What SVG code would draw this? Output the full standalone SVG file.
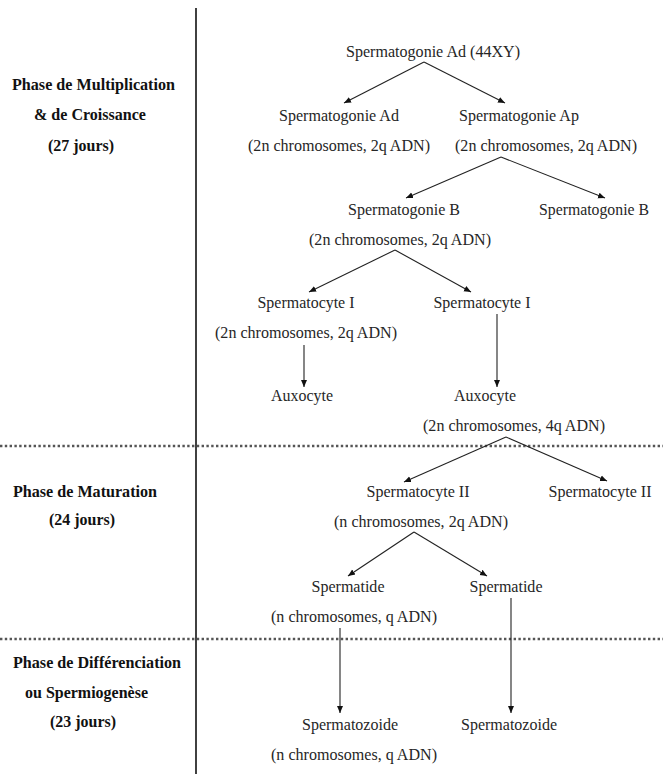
<svg xmlns="http://www.w3.org/2000/svg" width="663" height="774" viewBox="0 0 663 774">
<style>
  .t{font-family:"Liberation Serif","Times New Roman",serif;font-size:17.5px;fill:#262626;text-anchor:middle}
  .h{font-family:"Liberation Serif","Times New Roman",serif;font-size:17.5px;font-weight:bold;fill:#111}
  .c line{stroke:#222;stroke-width:1.1;fill:none}
  .dot{stroke:#555;stroke-width:2.6;stroke-dasharray:2.4 2.4}
</style>
<defs>
  <marker id="ah" markerWidth="8" markerHeight="8" refX="7" refY="4" orient="auto" markerUnits="userSpaceOnUse">
    <path d="M0,1 L7,4 L0,7 Z" fill="#111"/>
  </marker>
</defs>
<rect width="663" height="774" fill="#fff"/>
<g id="frame">
  <line x1="196" y1="8" x2="196" y2="774" stroke="#111" stroke-width="1.6"/>
  <line class="dot" x1="0" y1="446" x2="663" y2="446"/>
  <line class="dot" x1="0" y1="639" x2="663" y2="639"/>
</g>
<g id="phase-labels">
  <text class="h" x="12" y="90" textLength="163" lengthAdjust="spacingAndGlyphs">Phase de Multiplication</text>
  <text class="h" x="34" y="120" textLength="112" lengthAdjust="spacingAndGlyphs">&amp; de Croissance</text>
  <text class="h" x="48" y="151" textLength="66" lengthAdjust="spacingAndGlyphs">(27 jours)</text>
  <text class="h" x="13" y="497" textLength="144" lengthAdjust="spacingAndGlyphs">Phase de Maturation</text>
  <text class="h" x="49" y="525" textLength="66" lengthAdjust="spacingAndGlyphs">(24 jours)</text>
  <text class="h" x="13" y="668" textLength="168" lengthAdjust="spacingAndGlyphs">Phase de Différenciation</text>
  <text class="h" x="25" y="698" textLength="123" lengthAdjust="spacingAndGlyphs">ou Spermiogenèse</text>
  <text class="h" x="50" y="727" textLength="66" lengthAdjust="spacingAndGlyphs">(23 jours)</text>
</g>
<g id="n-sg-ad-44xy"><text class="t" x="433" y="57" textLength="174" lengthAdjust="spacingAndGlyphs">Spermatogonie Ad (44XY)</text></g>
<g id="n-sg-ad"><text class="t" x="339" y="121" textLength="120" lengthAdjust="spacingAndGlyphs">Spermatogonie Ad</text><text class="t" x="339" y="151" textLength="182" lengthAdjust="spacingAndGlyphs">(2n chromosomes, 2q ADN)</text></g>
<g id="n-sg-ap"><text class="t" x="519" y="121" textLength="120" lengthAdjust="spacingAndGlyphs">Spermatogonie Ap</text><text class="t" x="546" y="151" textLength="182" lengthAdjust="spacingAndGlyphs">(2n chromosomes, 2q ADN)</text></g>
<g id="n-sg-b1"><text class="t" x="404" y="215" textLength="112" lengthAdjust="spacingAndGlyphs">Spermatogonie B</text><text class="t" x="400" y="245" textLength="182" lengthAdjust="spacingAndGlyphs">(2n chromosomes, 2q ADN)</text></g>
<g id="n-sg-b2"><text class="t" x="594" y="215" textLength="110" lengthAdjust="spacingAndGlyphs">Spermatogonie B</text></g>
<g id="n-sc1-a"><text class="t" x="306" y="308" textLength="97" lengthAdjust="spacingAndGlyphs">Spermatocyte I</text><text class="t" x="306" y="338" textLength="182" lengthAdjust="spacingAndGlyphs">(2n chromosomes, 2q ADN)</text></g>
<g id="n-sc1-b"><text class="t" x="482" y="308" textLength="97" lengthAdjust="spacingAndGlyphs">Spermatocyte I</text></g>
<g id="n-aux-a"><text class="t" x="302" y="401" textLength="62" lengthAdjust="spacingAndGlyphs">Auxocyte</text></g>
<g id="n-aux-b"><text class="t" x="485" y="401" textLength="62" lengthAdjust="spacingAndGlyphs">Auxocyte</text><text class="t" x="514" y="431" textLength="182" lengthAdjust="spacingAndGlyphs">(2n chromosomes, 4q ADN)</text></g>
<g id="n-sc2-a"><text class="t" x="418" y="497" textLength="103" lengthAdjust="spacingAndGlyphs">Spermatocyte II</text><text class="t" x="421" y="527" textLength="174" lengthAdjust="spacingAndGlyphs">(n chromosomes, 2q ADN)</text></g>
<g id="n-sc2-b"><text class="t" x="600" y="497" textLength="103" lengthAdjust="spacingAndGlyphs">Spermatocyte II</text></g>
<g id="n-st-a"><text class="t" x="348" y="592" textLength="73" lengthAdjust="spacingAndGlyphs">Spermatide</text><text class="t" x="354" y="622" textLength="166" lengthAdjust="spacingAndGlyphs">(n chromosomes, q ADN)</text></g>
<g id="n-st-b"><text class="t" x="506" y="592" textLength="73" lengthAdjust="spacingAndGlyphs">Spermatide</text></g>
<g id="n-sz-a"><text class="t" x="350" y="730" textLength="96" lengthAdjust="spacingAndGlyphs">Spermatozoide</text><text class="t" x="354" y="760" textLength="166" lengthAdjust="spacingAndGlyphs">(n chromosomes, q ADN)</text></g>
<g id="n-sz-b"><text class="t" x="509" y="730" textLength="96" lengthAdjust="spacingAndGlyphs">Spermatozoide</text></g>
<g id="connectors" class="c">
  <line x1="424" y1="62" x2="344" y2="103" marker-end="url(#ah)"/>
  <line x1="424" y1="62" x2="505" y2="103" marker-end="url(#ah)"/>
  <line x1="501" y1="157" x2="406" y2="198" marker-end="url(#ah)"/>
  <line x1="501" y1="157" x2="605" y2="198" marker-end="url(#ah)"/>
  <line x1="395" y1="250" x2="309" y2="292" marker-end="url(#ah)"/>
  <line x1="395" y1="250" x2="471" y2="292" marker-end="url(#ah)"/>
  <line x1="304" y1="345" x2="304" y2="387" marker-end="url(#ah)"/>
  <line x1="497" y1="314" x2="497" y2="387" marker-end="url(#ah)"/>
  <line x1="506" y1="437" x2="404" y2="482" marker-end="url(#ah)"/>
  <line x1="506" y1="437" x2="607" y2="481" marker-end="url(#ah)"/>
  <line x1="414" y1="532" x2="348" y2="576" marker-end="url(#ah)"/>
  <line x1="414" y1="532" x2="487" y2="576" marker-end="url(#ah)"/>
  <line x1="340" y1="628" x2="340" y2="713" marker-end="url(#ah)"/>
  <line x1="511" y1="598" x2="511" y2="713" marker-end="url(#ah)"/>
</g>
</svg>
